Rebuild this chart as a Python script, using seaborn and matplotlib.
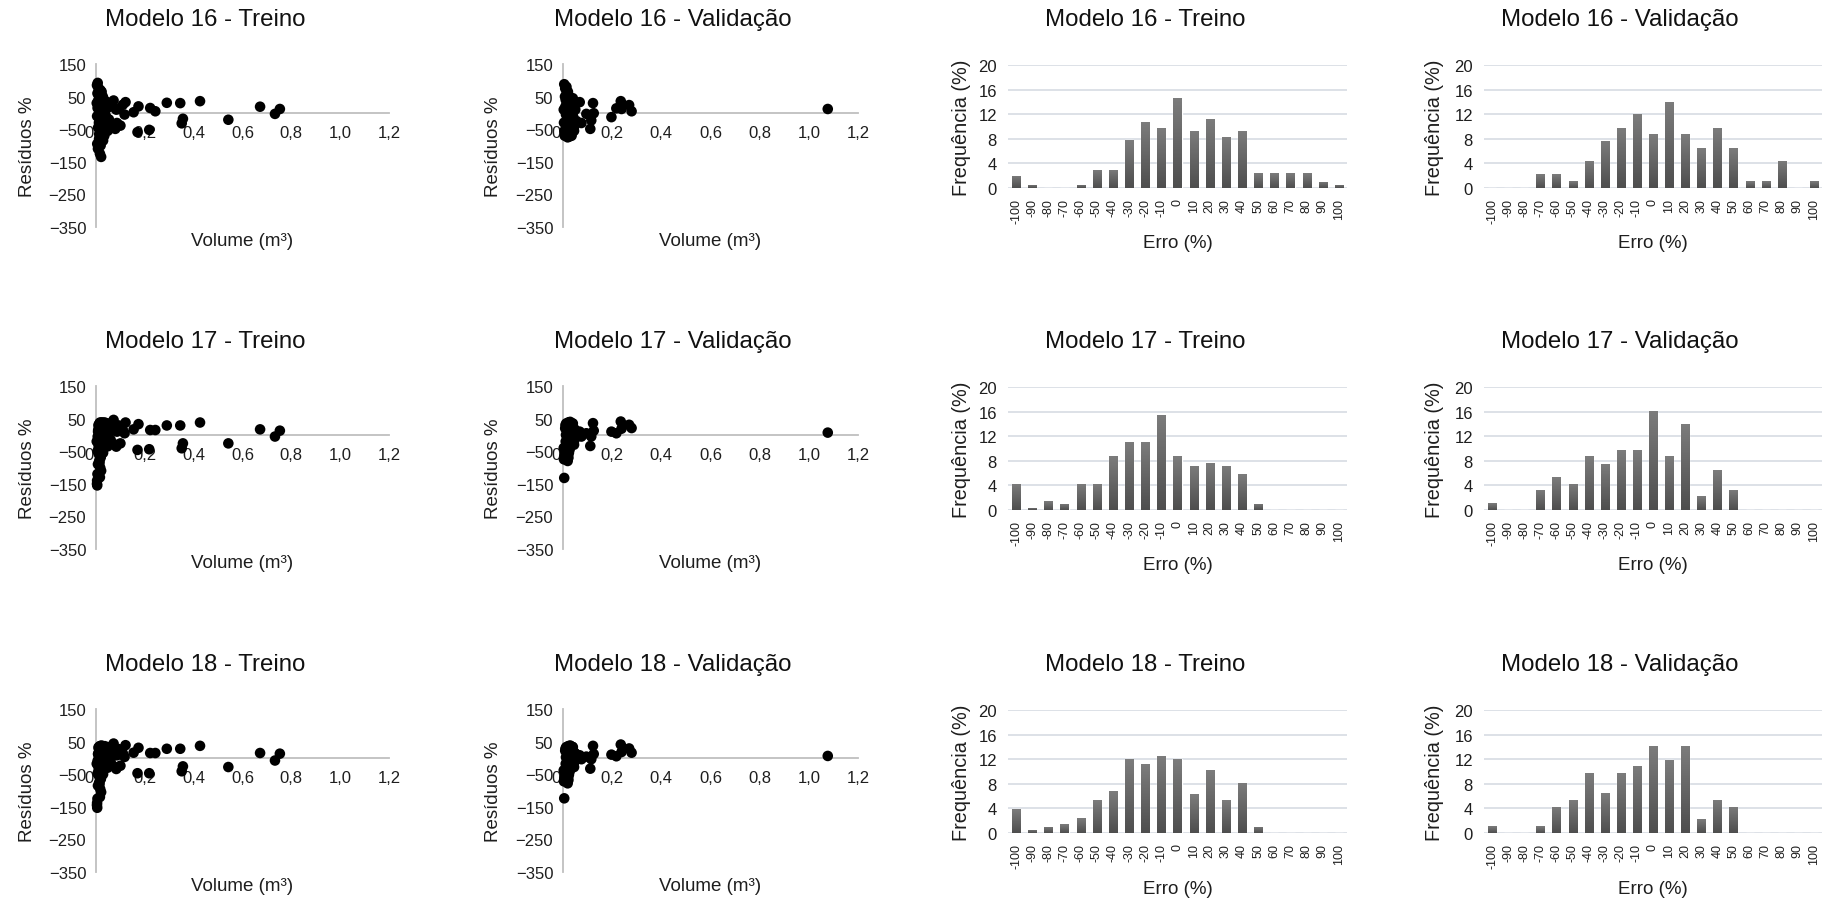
import numpy as np
import pandas as pd
import matplotlib
matplotlib.use("Agg")
import matplotlib.pyplot as plt
from matplotlib.colors import LinearSegmentedColormap
import seaborn as sns

# ---- data ----
# residual scatter: volume (m3) vs residual (%), training set
vol_treino = [0.004, 0.006, 0.008, 0.010, 0.012, 0.014, 0.016, 0.018, 0.020, 0.022,
              0.024, 0.026, 0.028, 0.030, 0.032, 0.034, 0.036, 0.038, 0.040, 0.042,
              0.045, 0.048, 0.050, 0.053, 0.056, 0.060, 0.005, 0.009, 0.013, 0.017,
              0.021, 0.025, 0.029, 0.033, 0.011, 0.015, 0.019, 0.023, 0.027, 0.031,
              0.007, 0.035,
              0.003, 0.0045, 0.0065, 0.0085, 0.0105, 0.0125, 0.0145, 0.0165, 0.0185, 0.0205,
              0.0225, 0.0245, 0.0265, 0.0285, 0.038, 0.043,
              0.065, 0.072, 0.079, 0.083, 0.086, 0.093, 0.100, 0.110, 0.117, 0.121,
              0.154, 0.170, 0.174, 0.218, 0.222, 0.243, 0.290, 0.345, 0.351, 0.356,
              0.426, 0.542, 0.672, 0.733, 0.753]
res_treino_16 = [85, 60, -110, 40, -30, 20, -125, 70, 5, -60,
                 30, -15, 50, -45, 10, -70, 25, -5, 35, -40,
                 15, -55, 30, -20, 20, -35, -95, 78, -65, 45,
                 -135, 0, -85, 40, 55, -20, -100, 65, -30, 15,
                 92, -55,
                 30, -10, 15, -45, 62, -80, 48, -5, 25, -50,
                 55, -25, 5, 35, 10, -15,
                 20, 38, -49, 10, -31, 12, -39, 25, -5, 33,
                 2, -59, 20, -52, 15, 5, 31, 30, -32, -18,
                 36, -21, 19, -3, 12]
res_treino_17 = [-150, -120, -90, 30, -60, 35, -130, 20, -20, 38,
                 -45, 10, 35, -30, 25, -10, 38, 0, 30, -25,
                 20, -35, 35, 5, 25, -15, -155, 15, -80, -100,
                 -110, 30, -55, 15, -40, 0, -70, 36, -20, -40,
                 -5, 20,
                 -20, -140, -50, 10, -30, 25, -85, 38, -65, 5,
                 30, -15, 28, 38, 10, -5,
                 25, 46, -30, -36, 10, 29, -26, 15, 5, 38,
                 17, -46, 33, -44, 15, 15, 29, 29, -41, -26,
                 38, -26, 17, -5, 13]
res_treino_18 = [-145, -125, -85, 32, -55, 35, -120, 22, -25, 38,
                 -40, 12, 33, -28, 22, -12, 36, 2, 28, -22,
                 18, -30, 33, 6, 24, -12, -153, 12, -75, -95,
                 -105, 30, -50, 14, -38, 2, -65, 35, -18, -35,
                 -8, 18,
                 -18, -138, -48, 12, -28, 26, -80, 36, -60, 6,
                 30, -12, 26, 36, 10, -4,
                 24, 44, -28, -34, 8, 27, -24, 14, 3, 39,
                 16, -47, 31, -47, 15, 15, 28, 28, -41, -26,
                 37, -28, 15, -8, 13]

# validation set
vol_valid = [0.003, 0.005, 0.007, 0.009, 0.011, 0.013, 0.015, 0.017, 0.019, 0.021,
             0.023, 0.025, 0.027, 0.029, 0.031, 0.033, 0.035, 0.038, 0.041, 0.044,
             0.047, 0.050, 0.055, 0.004, 0.008, 0.012, 0.016, 0.020, 0.024, 0.028,
             0.032,
             0.006, 0.010, 0.014, 0.018, 0.022, 0.026, 0.030, 0.036, 0.040, 0.045,
             0.068, 0.075, 0.095, 0.111, 0.115, 0.122, 0.125, 0.197, 0.217, 0.235,
             0.238, 0.269, 0.279, 1.077]
res_valid_16 = [10, 88, -70, 75, 40, -50, 60, 20, -75, 30,
                -20, 45, -60, 15, -35, 25, -70, 35, -10, 20,
                -40, 10, -25, -30, 50, -5, -40, 65, 0, -72,
                40,
                -55, 20, 80, -25, 55, -45, 30, -15, 45, -55,
                33, -31, -3, -49, -23, 30, -1, -13, 14, 36,
                12, 24, 5, 12]
res_valid_17 = [-40, -132, -70, 20, -20, 35, -60, 10, -80, 38,
                -10, 25, -45, 40, 5, 30, -25, 35, 0, 20,
                -15, 15, 5, -75, -50, 0, -30, 30, -55, 15,
                -5,
                -65, 30, -35, 25, -70, 38, -20, 20, 35, -30,
                10, -5, 5, -34, -5, 36, 13, 10, 5, 41,
                19, 31, 21, 7]
res_valid_18 = [-38, -124, -68, 22, -18, 33, -58, 12, -78, 36,
                -8, 24, -42, 38, 6, 28, -22, 34, 2, 18,
                -12, 14, 4, -72, -48, 2, -28, 28, -52, 14,
                -4,
                -62, 28, -33, 24, -68, 36, -18, 18, 33, -28,
                8, -4, 4, -33, -4, 37, 12, 10, 5, 41,
                18, 29, 16, 6]

# error histograms: frequency (%) per error class
erro_cats = ["-100", "-90", "-80", "-70", "-60", "-50", "-40", "-30", "-20", "-10", "0",
             "10", "20", "30", "40", "50", "60", "70", "80", "90", "100"]
freq_treino_16 = [2.0, 0.5, 0, 0, 0.5, 3.0, 3.0, 7.8, 10.7, 9.7, 14.6,
                  9.3, 11.2, 8.3, 9.3, 2.4, 2.4, 2.4, 2.4, 1.0, 0.5]
freq_valid_16 = [0, 0, 0, 2.2, 2.2, 1.1, 4.4, 7.7, 9.8, 12.0, 8.7,
                 14.0, 8.7, 6.5, 9.8, 6.5, 1.1, 1.1, 4.4, 0, 1.1]
freq_treino_17 = [4.3, 0.4, 1.4, 1.0, 4.3, 4.3, 8.7, 11.1, 11.1, 15.5, 8.7,
                  7.2, 7.7, 7.2, 5.8, 1.0, 0, 0, 0, 0, 0]
freq_valid_17 = [1.1, 0, 0, 3.3, 5.3, 4.3, 8.7, 7.5, 9.7, 9.7, 16.1,
                 8.7, 14.0, 2.2, 6.5, 3.3, 0, 0, 0, 0, 0]
freq_treino_18 = [3.9, 0.5, 1.0, 1.4, 2.4, 5.3, 6.8, 12.0, 11.2, 12.6, 12.0,
                  6.3, 10.2, 5.3, 8.2, 1.0, 0, 0, 0, 0, 0]
freq_valid_18 = [1.1, 0, 0, 1.1, 4.3, 5.4, 9.7, 6.5, 9.7, 10.9, 14.1,
                 11.8, 14.1, 2.2, 5.4, 4.3, 0, 0, 0, 0, 0]

modelos = [16, 17, 18]
scatter_rows = [(vol_treino, res_treino_16, vol_valid, res_valid_16),
                (vol_treino, res_treino_17, vol_valid, res_valid_17),
                (vol_treino, res_treino_18, vol_valid, res_valid_18)]
hist_rows = [(freq_treino_16, freq_valid_16),
             (freq_treino_17, freq_valid_17),
             (freq_treino_18, freq_valid_18)]

# ---- layout (pixels in a 1832x903 canvas) ----
W, H = 1832, 903
row_off = [0, 322, 645]
sc_cols = [(96, 389), (563, 858)]
hi_cols = [(1008, 1347), (1484, 1822)]
title_x = [205, 673, 1145, 1620]
sc_ylab_x = [27, 493]
hi_ylab_x = [962, 1435]

sns.set_theme(style="white")
plt.rcParams["font.family"] = ["Liberation Sans", "DejaVu Sans"]

TXT = "#1e1e1e"
GREY_AX = "#bfbfbf"
GRID = "#dadee5"
bar_cmap = LinearSegmentedColormap.from_list("bar", ["#4e4e4e", "#7c7c7c"])


def add_px_axes(fig, left, top, right, bottom):
    return fig.add_axes([left / W, 1 - bottom / H, (right - left) / W, (bottom - top) / H])


def scatter_panel(ax, box, vol, res, ylab_x):
    df = pd.DataFrame({"vol": vol, "res": res})
    sns.scatterplot(data=df, x="vol", y="res", ax=ax, color="black", s=58,
                    edgecolor="none", linewidth=0, zorder=3, clip_on=False, legend=False)
    ax.set_xlim(0, 1.2)
    ax.set_ylim(-350, 150)
    xt = np.arange(0, 1.21, 0.2)
    ax.set_xticks(xt)
    ax.set_xticklabels([f"{v:.1f}".replace(".", ",") for v in xt])
    ax.set_yticks(np.arange(-350, 151, 100))
    for s in ["top", "right"]:
        ax.spines[s].set_visible(False)
    ax.spines["bottom"].set_position(("data", 0))
    for s in ["bottom", "left"]:
        ax.spines[s].set_color(GREY_AX)
        ax.spines[s].set_linewidth(1.3)
    ax.tick_params(axis="x", length=0, labelsize=12, pad=9, colors=TXT)
    ax.tick_params(axis="y", length=0, labelsize=12, pad=7, colors=TXT)
    left, top, right, bottom = box
    ax.set_xlabel("Volume (m³)", fontsize=13.5, color=TXT)
    ax.xaxis.set_label_coords(0.5, -14 / (bottom - top))
    ax.xaxis.label.set_va("center")
    ax.set_ylabel("Resíduos %", fontsize=13.5, color=TXT)
    ax.yaxis.set_label_coords((ylab_x - left) / (right - left), 0.5)
    ax.yaxis.label.set_va("center")


def hist_panel(ax, box, freq, ylab_x):
    df = pd.DataFrame({"erro": erro_cats, "freq": freq})
    sns.barplot(data=df, x="erro", y="freq", order=erro_cats, color="#666666",
                width=0.5, saturation=1, ax=ax, zorder=2)
    grad = np.linspace(0, 1, 64).reshape(-1, 1)
    for p in list(ax.patches):
        x0, y0, w, h = p.get_x(), p.get_y(), p.get_width(), p.get_height()
        if h <= 0:
            continue
        im = ax.imshow(grad, extent=[x0, x0 + w, y0, y0 + h], origin="lower",
                       cmap=bar_cmap, aspect="auto", zorder=2.1)
        im.set_clip_path(p)
    ax.set_xlim(-0.5, len(erro_cats) - 0.5)
    ax.set_ylim(0, 20)
    ax.set_yticks(np.arange(0, 21, 4))
    ax.grid(axis="y", color=GRID, linewidth=1.3)
    ax.grid(axis="x", visible=False)
    ax.set_axisbelow(True)
    for s in ax.spines.values():
        s.set_visible(False)
    ax.tick_params(axis="x", length=0, labelsize=9, pad=7, rotation=90, colors=TXT)
    ax.tick_params(axis="y", length=0, labelsize=12, pad=8, colors=TXT)
    left, top, right, bottom = box
    ax.set_xlabel("Erro (%)", fontsize=13.5, color=TXT)
    ax.xaxis.set_label_coords(0.5, -55 / (bottom - top))
    ax.xaxis.label.set_va("center")
    ax.set_ylabel("Frequência (%)", fontsize=14.3, color=TXT)
    ax.yaxis.set_label_coords((ylab_x - left) / (right - left), 0.5)
    ax.yaxis.label.set_va("center")


fig = plt.figure(figsize=(W / 100, H / 100), dpi=100)
fig.patch.set_facecolor("white")

for r, m in enumerate(modelos):
    dy = row_off[r]
    vt, rt, vv, rv = scatter_rows[r]
    ft, fv = hist_rows[r]

    for c, (vol, res) in enumerate([(vt, rt), (vv, rv)]):
        box = (sc_cols[c][0], 65 + dy, sc_cols[c][1], 228 + dy)
        ax = add_px_axes(fig, *box)
        scatter_panel(ax, box, vol, res, sc_ylab_x[c])

    for c, freq in enumerate([ft, fv]):
        box = (hi_cols[c][0], 66 + dy, hi_cols[c][1], 189 + dy)
        ax = add_px_axes(fig, *box)
        hist_panel(ax, box, freq, hi_ylab_x[c])

    for c, fase in enumerate(["Treino", "Validação", "Treino", "Validação"]):
        fig.text(title_x[c] / W, 1 - (20 + dy) / H, f"Modelo {m} - {fase}",
                 ha="center", va="center", fontsize=17.3, color="#111111")

fig.savefig("out.png", dpi=100, facecolor="white")
